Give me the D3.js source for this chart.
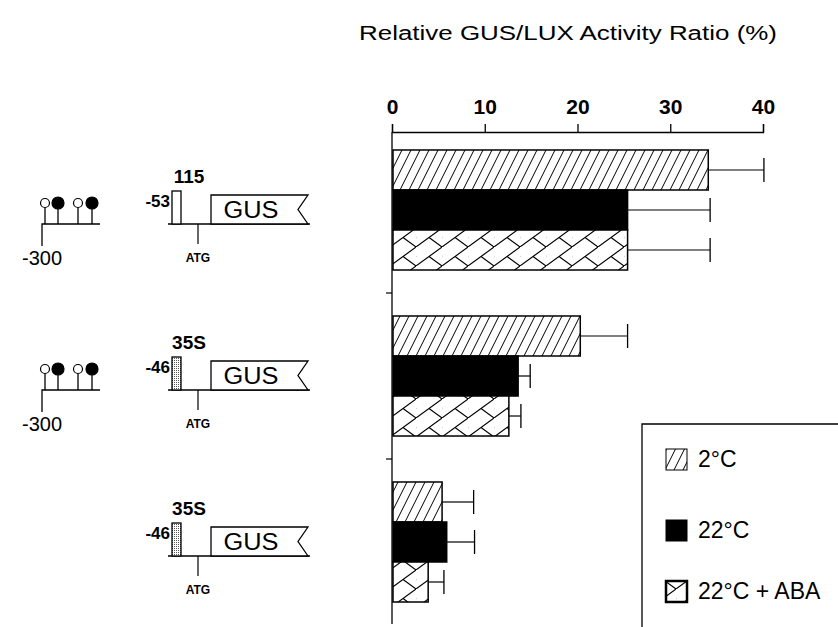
<!DOCTYPE html>
<html><head><meta charset="utf-8">
<script src="https://cdn.jsdelivr.net/npm/d3@7"></script>
<style>
body{margin:0;background:#fff;}
svg{display:block;font-family:"Liberation Sans",Arial,sans-serif;}
</style></head>
<body>
<svg id="c" width="838" height="627"></svg>
<script>
// ---- data ----
const constructs = ["c115", "c35S_full", "c35S_min"];
const seriesNames = ["2°C", "22°C", "22°C + ABA"];
const val2C   = [34.1, 20.3, 5.4];
const err2C   = [40.1, 25.4, 8.8];
const val22C  = [25.4, 13.6, 5.9];
const err22C  = [34.3, 14.9, 8.9];
const valABA  = [25.4, 12.6, 3.9];
const errABA  = [34.3, 13.9, 5.6];
const xTicks  = [0, 10, 20, 30, 40];
const promoterLabel = ["115", "35S", "35S"];
const promoterPos   = ["-53", "-46", "-46"];
const hasUpstream   = [true, true, false];

const svg = d3.select("#c");
const defs = svg.append("defs");

// patterns
const p1 = defs.append("pattern").attr("id","hatch").attr("patternUnits","userSpaceOnUse")
  .attr("width",9).attr("height",18);
p1.append("rect").attr("width",9).attr("height",18).attr("fill","#fff");
p1.append("path").attr("d","M0,18 L9,0 M-4.5,9 L0,0 M9,18 L13.5,9").attr("stroke","#000").attr("stroke-width",1);

const p2 = defs.append("pattern").attr("id","herring").attr("patternUnits","userSpaceOnUse")
  .attr("width",26).attr("height",19).attr("y",0);
p2.append("rect").attr("width",26).attr("height",19).attr("fill","#fff");
p2.append("path").attr("d","M0,19 L26,0 M13,9.5 L26,19 M0,9.5 L-13,19 M-13,0 L0,9.5")
  .attr("stroke","#000").attr("stroke-width",1.1).attr("fill","none");

const dots = defs.append("pattern").attr("id","dots").attr("patternUnits","userSpaceOnUse")
  .attr("width",2).attr("height",2);
dots.append("rect").attr("width",2).attr("height",2).attr("fill","#fff");
dots.append("rect").attr("width",1).attr("height",1).attr("fill","#555");

const fills = ["url(#hatch)", "#000", "url(#herring)"];

// scales
const x = d3.scaleLinear().domain([0, 40]).range([392, 763]);
const y0 = d3.scaleBand().domain(constructs).range([127, 625]).paddingInner(0.277).paddingOuter(0.1385);
const y1 = d3.scaleBand().domain(seriesNames).range([0, y0.bandwidth()]);

// title
svg.append("text").attr("x", 568).attr("y", 40).attr("text-anchor","middle")
  .attr("font-size", 20).attr("textLength", 418).attr("lengthAdjust","spacingAndGlyphs")
  .text("Relative GUS/LUX Activity Ratio (%)");

// top axis
const axisY = 132;
const ax = svg.append("g").attr("transform", `translate(0,${axisY})`)
  .call(d3.axisTop(x).tickValues(xTicks).tickSize(8).tickSizeOuter(8).tickPadding(10));
ax.select(".domain").attr("stroke","#000").attr("stroke-width",1.3);
ax.selectAll(".tick line").attr("stroke","#000").attr("stroke-width",1.3);
ax.selectAll(".tick text").attr("font-size",21).attr("fill","#000")
  .attr("font-family","'Liberation Sans',Arial,sans-serif").attr("font-weight","bold");

// vertical axis
svg.append("line").attr("x1", x(0)).attr("x2", x(0)).attr("y1", axisY).attr("y2", 624)
  .attr("stroke","#000").attr("stroke-width",1.3);
constructs.slice(0,2).forEach(c => {
  const yy = y0(c) + y0.bandwidth() + (y0.step() - y0.bandwidth())/2;
  svg.append("line").attr("x1", x(0)-6).attr("x2", x(0)).attr("y1", yy).attr("y2", yy)
    .attr("stroke","#000").attr("stroke-width",1.2);
});

// bars
const allVals = [val2C, val22C, valABA];
const allErrs = [err2C, err22C, errABA];
const rows = [];
constructs.forEach((c, i) => {
  seriesNames.forEach((s, j) => rows.push({c, s, j, v: allVals[j][i], e: allErrs[j][i]}));
});
const g = svg.append("g");
g.selectAll("line.err").data(rows).enter().append("line").attr("class","err")
  .attr("x1", d => x(d.v)).attr("x2", d => x(d.e))
  .attr("y1", d => y0(d.c) + y1(d.s) + y1.bandwidth()/2)
  .attr("y2", d => y0(d.c) + y1(d.s) + y1.bandwidth()/2)
  .attr("stroke","#000").attr("stroke-width",1.2);
g.selectAll("line.cap").data(rows).enter().append("line").attr("class","cap")
  .attr("x1", d => x(d.e)).attr("x2", d => x(d.e))
  .attr("y1", d => y0(d.c) + y1(d.s) + y1.bandwidth()/2 - 12)
  .attr("y2", d => y0(d.c) + y1(d.s) + y1.bandwidth()/2 + 12)
  .attr("stroke","#000").attr("stroke-width",1.3);
g.selectAll("rect.bar").data(rows).enter().append("rect").attr("class","bar")
  .attr("x", x(0)+1).attr("y", d => y0(d.c) + y1(d.s))
  .attr("width", d => x(d.v) - x(0) - 1).attr("height", y1.bandwidth())
  .attr("fill", d => fills[d.j]).attr("stroke","#000").attr("stroke-width",1.5);

// construct diagrams
constructs.forEach((c, i) => {
  const base = y0(c) + y0.bandwidth()/2 + 14;
  const dg = svg.append("g");
  if (hasUpstream[i]) {
    dg.append("path").attr("d", `M42,${base+22} L42,${base} L100,${base}`)
      .attr("fill","none").attr("stroke","#000").attr("stroke-width",1.3);
    const lol = [[45,false],[58,true],[78,false],[92,true]];
    lol.forEach(([lx, filled]) => {
      const r = filled ? 6 : 4.5;
      const cy = base - 21;
      dg.append("line").attr("x1",lx).attr("x2",lx).attr("y1",cy + r).attr("y2",base)
        .attr("stroke","#000").attr("stroke-width",1.3);
      dg.append("circle").attr("cx",lx).attr("cy",cy).attr("r",r)
        .attr("fill", filled ? "#000" : "#fff").attr("stroke","#000").attr("stroke-width",1.2);
    });
    dg.append("text").attr("x",22).attr("y",base+41).attr("font-size",20).text("-300");
  }
  const bx = 172, bw = 9;
  dg.append("line").attr("x1",168).attr("x2",310).attr("y1",base).attr("y2",base)
    .attr("stroke","#000").attr("stroke-width",1.3);
  dg.append("rect").attr("x",bx).attr("y",base-33).attr("width",bw).attr("height",33)
    .attr("fill", i === 0 ? "#fff" : "url(#dots)").attr("stroke","#000").attr("stroke-width",1.3);
  dg.append("text").attr("x",bx-2).attr("y",base-17).attr("text-anchor","end")
    .attr("font-size",17).attr("font-weight","bold").text(promoterPos[i]);
  dg.append("text").attr("x",bx+17).attr("y",base-41).attr("text-anchor","middle")
    .attr("font-size",19).attr("font-weight","bold").text(promoterLabel[i]);
  dg.append("line").attr("x1",198).attr("x2",198).attr("y1",base).attr("y2",base+20)
    .attr("stroke","#000").attr("stroke-width",1.2);
  dg.append("text").attr("x",198).attr("y",base+38).attr("text-anchor","middle")
    .attr("font-size",12).attr("font-weight","bold").text("ATG");
  const gx = 211, gw = 97, gh = 29;
  dg.append("path").attr("d", `M${gx},${base} L${gx},${base-gh} L${gx+gw},${base-gh} L${gx+gw-10},${base-gh/2} L${gx+gw},${base} Z`)
    .attr("fill","#fff").attr("stroke","#000").attr("stroke-width",1.3);
  dg.append("text").attr("x",gx+40).attr("y",base-6).attr("text-anchor","middle")
    .attr("font-size",23).attr("textLength",55).attr("lengthAdjust","spacingAndGlyphs").text("GUS");
});

// legend
const lg = svg.append("g");
lg.append("path").attr("d","M642,627 L642,424 L838,424").attr("fill","none")
  .attr("stroke","#000").attr("stroke-width",1.3);
const legY = [449, 520, 581];
seriesNames.forEach((s, j) => {
  lg.append("rect").attr("x",666).attr("y",legY[j]).attr("width",21).attr("height",21)
    .attr("fill", fills[j]).attr("stroke","#000").attr("stroke-width", j===2 ? 2.5 : 1);
  lg.append("text").attr("x",698).attr("y",legY[j]+18).attr("font-size",23).text(s);
});
</script>
</body></html>
